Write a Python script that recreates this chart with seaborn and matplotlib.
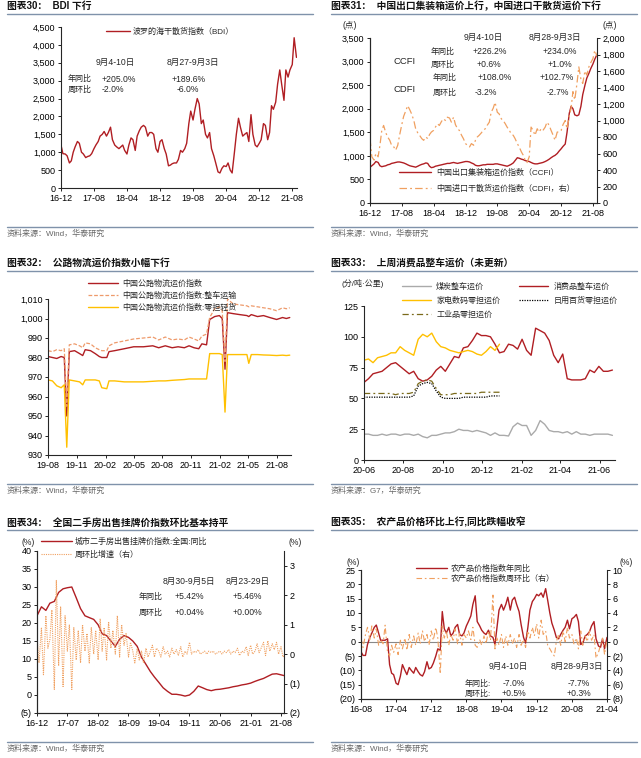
import pandas as pd
import matplotlib
matplotlib.use('Agg')
import matplotlib.pyplot as plt
import matplotlib.dates as mdates
from matplotlib.ticker import FuncFormatter, MultipleLocator
import seaborn as sns

# ---------------- data ----------------
# chart 30: BDI, semi-monthly from 2016-12
bdi = [1200, 960, 950, 900, 700, 760, 1000, 1150, 1300, 1250, 1000, 950,
       850, 880, 900, 960, 1100, 1200, 1300, 1450, 1500, 1580, 1450, 1550,
       1700, 1350, 1200, 1150, 1100, 1150, 1200, 1050, 950, 1200, 1400, 1350,
       1050, 1450, 1600, 1700, 1750, 1700, 1450, 1550, 1550, 1500, 1100, 1000,
       1300, 1350, 1100, 950, 620, 640, 680, 700, 700, 800, 1050, 1000,
       1100, 1250, 1800, 2150, 1900, 2200, 2500, 2350, 1800, 1900, 1500, 1400,
       1550, 1100, 900, 700, 450, 420, 550, 620, 600, 700, 500, 420,
       1000, 1500, 1950, 1700, 1450, 1500, 1550, 1300, 2050, 1500, 1200, 1150,
       1250, 1350, 1800, 1750, 1350, 1550, 2300, 2200, 2400, 2900, 3300, 2900,
       2450, 3300, 3100, 3300, 3450, 4200, 3650]

# chart 31: CCFI (left) / CDFI (right), semi-monthly from 2016-12
ccfi = [760, 790, 830, 880, 860, 790, 770, 780, 790, 810, 820, 840,
        850, 860, 870, 870, 860, 850, 830, 810, 790, 780, 770, 760,
        780, 800, 820, 830, 850, 840, 780, 750, 760, 780, 790, 800,
        810, 820, 830, 840, 840, 850, 860, 850, 840, 850, 860, 870,
        880, 880, 870, 850, 830, 800, 790, 790, 800, 810, 810, 820,
        820, 820, 820, 830, 830, 820, 810, 800, 790, 780, 800, 820,
        850, 900, 960, 950, 930, 920, 900, 890, 880, 860, 840, 830,
        830, 840, 850, 860, 880, 900, 930, 960, 990, 1010, 1050, 1100,
        1150, 1200, 1250, 1500, 1900, 2050, 2000, 1870, 1850, 1870, 2050, 2300,
        2500, 2650, 2750, 2850, 2950, 3050, 3150]
cdfi = [780, 560, 520, 600, 560, 700, 880, 940, 850, 800, 760, 700,
        680, 640, 700, 820, 950, 1050, 1120, 1180, 1130, 1080, 1000, 900,
        850, 820, 780, 760, 800, 780, 830, 860, 880, 920, 960, 940,
        990, 1020, 1000, 1040, 1030, 980, 1040, 950, 900, 880, 820, 780,
        720, 700, 680, 720, 700, 760, 800, 820, 850, 880, 900, 940,
        980, 1100, 1150, 1220, 1100, 1080, 1020, 1000, 960, 920, 880, 840,
        820, 780, 720, 680, 620, 580, 520, 490, 560, 920, 880, 820,
        900, 860, 900, 880, 920, 980, 940, 880, 820, 760, 860, 860,
        880, 950, 1000, 900, 1050, 1150, 1350, 1250, 1450, 1650, 1500, 1450,
        1600, 1550, 1650, 1700, 1750, 1850, 1780]

# chart 32: road freight index
road_dates = ['2019-08-01', '2019-08-15', '2019-08-29', '2019-09-12', '2019-09-22',
              '2019-09-30', '2019-10-08', '2019-10-25', '2019-11-10', '2019-11-20',
              '2019-11-28', '2019-12-15', '2019-12-30', '2020-01-12', '2020-01-20',
              '2020-02-05', '2020-02-12', '2020-03-01', '2020-04-01', '2020-05-01',
              '2020-06-01', '2020-07-01', '2020-07-20', '2020-08-10', '2020-09-01',
              '2020-09-20', '2020-10-10', '2020-10-25', '2020-11-10', '2020-11-25',
              '2020-12-05', '2020-12-20', '2020-12-30', '2021-01-15', '2021-01-30',
              '2021-02-08', '2021-02-17', '2021-02-25', '2021-03-15', '2021-04-05',
              '2021-04-28', '2021-05-04', '2021-05-12', '2021-06-01', '2021-06-20',
              '2021-07-10', '2021-08-01', '2021-08-20', '2021-09-01', '2021-09-12']
road_all = [980.5, 980.0, 979.5, 980.5, 980.0, 950.0, 983.0, 983.5, 982.0, 981.0,
            984.0, 983.5, 982.0, 980.5, 980.0, 980.0, 983.0, 983.5, 984.5, 985.5,
            985.5, 986.0, 985.0, 986.0, 985.0, 985.5, 985.0, 986.0, 985.0, 984.5,
            987.0, 986.5, 999.5, 1001.0, 1001.5, 1000.0, 974.0, 1003.0, 1002.5, 1002.0,
            1001.5, 1001.0, 1002.0, 1001.0, 1001.5, 1000.5, 999.5, 1000.5, 1000.0, 1000.5]
road_ftl = [983.5, 983.0, 984.0, 983.5, 984.5, 955.0, 986.5, 987.0, 986.0, 985.0,
            987.5, 987.0, 985.0, 984.0, 983.5, 983.5, 986.0, 987.5, 988.5, 989.5,
            990.0, 990.5, 989.0, 990.5, 989.0, 989.5, 989.0, 990.5, 989.5, 988.5,
            991.0, 992.0, 1000.5, 1005.0, 1006.0, 1004.0, 978.0, 1010.0, 1007.5, 1007.0,
            1006.5, 1006.0, 1006.5, 1006.0, 1005.5, 1005.0, 1004.0, 1005.5, 1005.0, 1005.5]
road_ltl = [968.5, 968.0, 965.5, 964.5, 966.0, 934.0, 968.5, 968.0, 967.5, 966.0,
            968.5, 968.5, 968.5, 968.0, 964.5, 964.0, 968.0, 968.0, 967.5, 967.5,
            967.5, 967.8, 968.0, 968.0, 968.3, 968.5, 968.7, 969.0, 969.0, 969.0,
            969.0, 969.0, 982.0, 982.0, 982.0, 981.5, 952.0, 981.5, 981.5, 981.5,
            981.5, 977.0, 981.5, 981.5, 981.3, 981.2, 981.0, 981.2, 981.0, 981.2]

# chart 33: weekly truck freight rates from 2020-06-01
coal = [21, 21, 20, 20, 21, 20, 21, 21, 20, 21, 21, 20, 21, 19, 18, 20, 20, 21, 22, 22,
        23, 25, 24, 24, 23, 24, 23, 22, 20, 22, 20, 20, 19.5, 27, 30, 28, 28, 20, 24, 32,
        29, 24, 23, 23, 22, 23, 21, 23, 21, 21, 20, 21, 21, 21, 21, 20]
consumer = [63, 66, 70, 71, 72, 75, 78, 79, 76, 73, 70, 72, 66, 64, 65, 68, 73, 76, 72, 78,
            84, 83, 91, 92, 97, 103, 101, 101, 100, 94, 87, 88, 94, 93, 90, 98, 89, 85, 107, 105,
            103, 97, 85, 79, 86, 66, 65, 65, 65, 66, 73, 71, 76, 72, 72, 73]
appliance = [81, 82, 79, 83, 84, 85, 87, 87, 92, 89, 87, 85, 98, 102, 100, 103, 96, 92, 91, 89,
             88, 87, 88, 89, 88, 86, 85, 88, 92, 89, 94]
daily = [51, 51, 51, 51, 51, 51, 51, 51, 51, 51, 51, 52, 60, 62, 63, 62, 56, 51, 50, 50,
         50, 50, 51, 51, 51, 51, 51, 51, 52, 52, 52]
industrial = [54, 54, 54, 54, 54, 54, 54, 53, 54, 54, 54, 55, 62, 64, 65, 64, 58, 53, 53, 53,
              54, 54, 54, 54, 54, 54, 55, 55, 55, 55, 55]

# chart 34: second-hand house listing price, yoy (monthly) and wow (semi-monthly)
house_yoy = [22, 24.5, 23.5, 25.5, 26, 28.5, 29.5, 29.8, 30, 27, 24, 22, 21.5, 21, 19.5,
             17, 16.5, 15, 13.5, 15.5, 16.5, 16, 15, 13.5, 10.5, 8.5, 6.5, 5, 3.5, 2,
             1, 0.2, 0.2, 0, -0.3, 0, 1, 2.5, 2, 1.5, 1.2, 1.5, 1.6, 1.8, 2.0,
             2.3, 2.5, 2.8, 3.0, 3.3, 3.8, 4.2, 4.6, 5.2, 5.8, 5.9, 5.6, 5.3]
house_wow = [0.6, -0.3, 0.9, -0.7, 1.3, 0.2, 0.5, 1.5, -1.2, 2.5, -0.4, 1.6, -1.1, 1.3,
             0.1, 1.0, -1.2, 0.9, -0.2, 0.8, -0.3, 1.0, 0.1, 0.7, -0.3, 0.9, 0.0, 0.8,
             -0.2, 1.2, 0.1, 0.9, -0.2, 1.1, 0.2, 0.8, 0.0, 1.3, -0.1, 1.0, 0.3, 0.7,
             -0.1, 0.4, 0.1, -0.3, 0.2, -0.2, 0.1, -0.3, 0.2, -0.1, 0.1, 0.3, -0.1, 0.2,
             0.1, -0.1, 0.25, 0.0, 0.1, -0.1, 0.2, 0.0, 0.15, -0.05, 0.25, -0.1, 0.1, 0.0,
             0.4, 0.0, 0.1, 0.05, 0.15, 0.0, 0.05, 0.1, 0.0, 0.1, 0.05, 0.1, 0.0, 0.05,
             0.1, 0.0, 0.1, 0.05, 0.15, 0.0, 0.1, 0.05, 0.2, -0.05, 0.1, 0.05, 0.25, -0.05,
             0.3, 0.0, 0.1, 0.35, 0.05, 0.2, 0.4, -0.05, 0.45, 0.1, 0.35, 0.15, 0.4, 0.0,
             0.25, -0.1, 0.04]

# chart 35: farm product price index, semi-monthly from 2016-08
farm_yoy = [-3.5, -4.8, -4.8, -1, 1.5, 3, 5, 5.8, 3, 0.5, 0.5, 0.5, 1, -8, -11, -11.5,
            -14.5, -15, -12, -8, -10, -11.5, -9, -10, -11, -9, -10.5, -11.5, -12, -10.5,
            -7, -9.5, -9, -7.5, -5, -2.5, -3, 10.5, 4.5, 3, 5, 2, 3, 5, 6, 2.5, 2, 3,
            5.5, 7, 9, 13, 16, 7, 5.5, 4, 3, 2.5, 4, 2, 1.5, -1, 5, 11, 13, 11, 13, 15.5,
            11, 14.5, 15.5, 13, 10.5, 6, 1.5, -0.5, 5, 11, 14, 15, 16.5, 16, 17, 15.5,
            18.5, 14.5, 10, 6.5, 4, 1.5, 1, 2.5, 4, 5, 7.5, 4.5, 8, 8.5, 9.5, 7, -1,
            -0.5, 2, 2.5, 3.5, 5.5, 7, 1, -1.5, -2, 1, -2.5, 1.5]
farm_wow = [0.5, -0.8, 1.0, 2.0, 0.3, 2.2, 0.5, 1.8, -0.5, 0.3, -0.3, 2.3, -1.5, -2.0,
            -0.5, -1.5, -0.3, -1.8, 0.2, -1.0, 0.5, -1.2, 1.0, -0.8, 0.8, -0.5, 1.2, -0.3,
            1.5, 0.0, 1.0, -0.5, 1.5, 0.2, 2.0, 0.5, -4.5, 2.2, 0.5, 1.5, -0.5, 1.0, 0.2,
            1.8, -0.3, 1.2, -0.5, 1.0, 0.5, 1.5, 0.3, 2.0, -0.5, -0.8, 0.3, -0.5, 0.8, -0.3,
            1.5, 0.2, 6.5, -1.0, 0.5, -0.5, 1.0, -0.8, 0.8, -0.5, 1.0, -0.3, 0.5, -0.8, 1.0,
            -0.5, 0.3, -0.8, 1.5, 0.5, 2.0, 0.8, 2.5, 0.5, 3.0, 1.0, 1.5, -0.5, -1.0, -1.5,
            -2.0, 0.0, 1.0, -0.5, 1.5, 0.0, 2.0, 0.5, 1.0, -0.3, 0.5, -1.0, 1.5, -0.5, 0.8,
            0.0, 1.5, 0.2, 1.0, -2.3, -1.5, -0.5, 0.5, -1.8, 0.3]

# ---------------- style ----------------
RED = '#B01E23'
ORANGE = '#F0A060'
SALMON = '#EE9A6B'
YELLOW = '#FFC000'
GRAY = '#AAAAAA'
OLIVE = '#7A6A1A'
RULE = '#7F92AA'

sns.set_theme(style='ticks')
plt.rcParams['font.family'] = ['Liberation Sans', 'Noto Sans CJK SC']
plt.rcParams['axes.unicode_minus'] = False
plt.rcParams['axes.linewidth'] = 0.8

W, H = 641, 758
fig = plt.figure(figsize=(W / 100, H / 100), dpi=100)
fig.patch.set_facecolor('white')


def box(l, t, r, b):
    return [l / W, 1 - b / H, (r - l) / W, (b - t) / H]


def ftext(x, y, s, size=6, ha='left', **kw):
    fig.text(x / W, 1 - y / H, s, fontsize=size, ha=ha, va='center', **kw)


def hline(x0, x1, y):
    fig.add_artist(plt.Line2D([x0 / W, x1 / W], [1 - y / H, 1 - y / H], color=RULE, lw=1.0))


def frame(x0, x1, yt, yl, ysl, ys, title, src):
    ftext(x0, yt, title, size=7, weight='bold', color='#111111')
    hline(x0, x1, yl)
    hline(x0, x1, ysl)
    ftext(x0, ys, src, size=5.8, color='#666666')


thousands = FuncFormatter(lambda v, p: f'{v:,.0f}')
paren = FuncFormatter(lambda v, p: f'({abs(v):.0f})' if v < -1e-9 else f'{v:.0f}')


def style(ax, right=False):
    ax.spines['top'].set_visible(False)
    ax.spines['right'].set_visible(right)
    ax.tick_params(labelsize=6.5, length=2.5, width=0.6, pad=1.5, colors='black')
    ax.set_xlabel('')
    ax.set_ylabel('')


def date_axis(ax, start, n, freq, end):
    ax.set_xticks(pd.date_range(start, periods=n, freq=freq))
    ax.xaxis.set_major_formatter(mdates.DateFormatter('%y-%m'))
    ax.set_xlim(pd.Timestamp(start), pd.Timestamp(end))


def put_legend(ax, handles, x, y, hl=3.8, pad=0.5, sp=0.5, **kw):
    ax.legend(handles=handles, loc='upper left', bbox_to_anchor=(x / W, 1 - y / H),
              bbox_transform=fig.transFigure, frameon=False, fontsize=5.8,
              handlelength=hl, handletextpad=pad, borderaxespad=0, borderpad=0,
              labelspacing=sp, **kw)


def series(start, vals, freq):
    return pd.DataFrame({'date': pd.date_range(start, periods=len(vals), freq=freq), 'v': vals})


# frames
frame(7, 313, 6, 13.5, 226.5, 234, '图表30：  BDI 下行', '资料来源：Wind，华泰研究')
frame(331, 637, 6, 13.5, 226.5, 234, '图表31：  中国出口集装箱运价上行，中国进口干散货运价下行', '资料来源：Wind，华泰研究')
frame(7, 313, 263, 270.5, 484, 491, '图表32：  公路物流运价指数小幅下行', '资料来源：Wind，华泰研究')
frame(331, 637, 263, 270.5, 484, 491, '图表33：  上周消费品整车运价（未更新）', '资料来源：G7，华泰研究')
frame(7, 313, 522.5, 529.5, 742, 749, '图表34：  全国二手房出售挂牌价指数环比基本持平', '资料来源：Wind，华泰研究')
frame(331, 637, 522.5, 529.5, 742, 749, '图表35：  农产品价格环比上行,同比跌幅收窄', '资料来源：Wind，华泰研究')

# ---------------- chart 30 ----------------
ax = fig.add_axes(box(61, 27, 297, 188))
sns.lineplot(data=series('2016-12-01', bdi, 'SMS'), x='date', y='v', ax=ax, color=RED,
             lw=1.0, legend=False, label='波罗的海干散货指数（BDI）')
ax.set_ylim(0, 4500)
ax.yaxis.set_major_locator(MultipleLocator(500))
ax.yaxis.set_major_formatter(thousands)
date_axis(ax, '2016-12-01', 8, '8MS', '2021-09-05')
style(ax)
put_legend(ax, ax.lines[:1], 106, 28, hl=3.0, pad=0.35)
ftext(115, 62.5, '9月4-10日', 6.2, 'center')
ftext(192.5, 62.5, '8月27-9月3日', 6.2, 'center')
ftext(68, 79, '年同比', 5.8)
ftext(101.5, 79, '+205.0%', 6.2)
ftext(188.5, 79, '+189.6%', 6.2, 'center')
ftext(68, 90, '周环比', 5.8)
ftext(101.5, 90, '-2.0%', 6.2)
ftext(187.5, 90, '-6.0%', 6.2, 'center')

# ---------------- chart 31 ----------------
ax = fig.add_axes(box(370, 38, 597, 203))
axr = ax.twinx()
sns.lineplot(data=series('2016-12-01', ccfi, 'SMS'), x='date', y='v', ax=ax, color=RED,
             lw=1.0, legend=False, label='中国出口集装箱运价指数（CCFI）')
sns.lineplot(data=series('2016-12-01', cdfi, 'SMS'), x='date', y='v', ax=axr, color=ORANGE,
             lw=0.9, legend=False, linestyle=(0, (6, 2.5, 1.5, 2.5)),
             label='中国进口干散货运价指数（CDFI，右）')
ax.set_ylim(0, 3500)
ax.yaxis.set_major_locator(MultipleLocator(500))
ax.yaxis.set_major_formatter(thousands)
axr.set_ylim(0, 2000)
axr.yaxis.set_major_locator(MultipleLocator(200))
axr.yaxis.set_major_formatter(thousands)
date_axis(ax, '2016-12-01', 8, '8MS', '2021-09-01')
style(ax)
style(axr, right=True)
put_legend(axr, [ax.lines[0], axr.lines[0]], 399, 168.5, hl=4.0, pad=0.6, sp=0.95)
ftext(342.5, 26, '(点)', 6.2)
ftext(602.5, 26, '(点)', 6.2)
ftext(483.5, 37.5, '9月4-10日', 6.2, 'center')
ftext(555, 37.5, '8月28-9月3日', 6.2, 'center')
ftext(394, 61, 'CCFI', 6.8)
ftext(394, 89, 'CDFI', 6.8)
ftext(431, 51.5, '年同比', 5.8)
ftext(489.5, 51.5, '+226.2%', 6.2, 'center')
ftext(559.5, 51.5, '+234.0%', 6.2, 'center')
ftext(431, 64.5, '周环比', 5.8)
ftext(488.5, 64.5, '+0.6%', 6.2, 'center')
ftext(559.5, 64.5, '+1.0%', 6.2, 'center')
ftext(432.5, 77.5, '年同比', 5.8)
ftext(495, 77.5, '+108.0%', 6.2, 'center')
ftext(556.5, 77.5, '+102.7%', 6.2, 'center')
ftext(432.5, 92.5, '周环比', 5.8)
ftext(485.5, 92.5, '-3.2%', 6.2, 'center')
ftext(557.5, 92.5, '-2.7%', 6.2, 'center')

# ---------------- chart 32 ----------------
ax = fig.add_axes(box(48, 299, 291, 455))
road = pd.DataFrame({'date': pd.to_datetime(road_dates), 'all': road_all,
                     'ftl': road_ftl, 'ltl': road_ltl})
sns.lineplot(data=road, x='date', y='all', ax=ax, color=RED, lw=1.0, legend=False,
             label='中国公路物流运价指数')
sns.lineplot(data=road, x='date', y='ftl', ax=ax, color=SALMON, lw=0.9, legend=False,
             linestyle=(0, (3, 1.5)), label='中国公路物流运价指数:整车运输')
sns.lineplot(data=road, x='date', y='ltl', ax=ax, color=YELLOW, lw=1.0, legend=False,
             label='中国公路物流运价指数:零担轻货')
ax.set_ylim(930, 1010)
ax.yaxis.set_major_locator(MultipleLocator(10))
ax.yaxis.set_major_formatter(thousands)
date_axis(ax, '2019-08-01', 9, '3MS', '2021-09-16')
style(ax)
put_legend(ax, ax.lines[:3], 87.5, 280, hl=3.8, pad=0.55, sp=0.45)

# ---------------- chart 33 ----------------
ax = fig.add_axes(box(364, 306, 615, 460))
sns.lineplot(data=series('2020-06-01', coal, '7D'), x='date', y='v', ax=ax, color=GRAY,
             lw=1.0, legend=False, label='煤炭整车运价')
sns.lineplot(data=series('2020-06-01', consumer, '7D'), x='date', y='v', ax=ax, color=RED,
             lw=1.0, legend=False, label='消费品整车运价')
sns.lineplot(data=series('2020-06-01', appliance, '7D'), x='date', y='v', ax=ax, color=YELLOW,
             lw=1.0, legend=False, label='家电数码零担运价')
sns.lineplot(data=series('2020-06-01', daily, '7D'), x='date', y='v', ax=ax, color='black',
             lw=0.9, legend=False, linestyle=(0, (1, 1)), label='日用百货零担运价')
sns.lineplot(data=series('2020-06-01', industrial, '7D'), x='date', y='v', ax=ax, color=OLIVE,
             lw=0.9, legend=False, linestyle=(0, (5, 2.5, 1.5, 2.5)), label='工业品零担运价')
ax.set_ylim(0, 125)
ax.yaxis.set_major_locator(MultipleLocator(25))
date_axis(ax, '2020-06-01', 7, '2MS', '2021-06-25')
style(ax)
lines = ax.lines
put_legend(ax, [lines[0], lines[2], lines[4], lines[1], lines[3]], 401.5, 283,
           hl=3.7, pad=0.6, sp=0.7, ncol=2, columnspacing=2.3)
ftext(341.5, 283.5, '(分/吨·公里)', 5.8)

# ---------------- chart 34 ----------------
ax = fig.add_axes(box(37, 551, 284, 713))
axr = ax.twinx()
sns.lineplot(data=series('2016-12-01', house_yoy, 'MS'), x='date', y='v', ax=ax, color=RED,
             lw=1.0, legend=False, label='城市二手房出售挂牌价指数:全国:同比')
sns.lineplot(data=series('2016-12-01', house_wow, 'SMS'), x='date', y='v', ax=axr,
             color=ORANGE, lw=0.8, legend=False, linestyle=(0, (1, 1)),
             label='周环比增速（右）')
ax.set_ylim(-5, 40)
ax.yaxis.set_major_locator(MultipleLocator(5))
ax.yaxis.set_major_formatter(paren)
axr.set_ylim(-2, 3.5)
axr.set_yticks([-2, -1, 0, 1, 2, 3])
axr.yaxis.set_major_formatter(paren)
date_axis(ax, '2016-12-01', 9, '7MS', '2021-08-22')
style(ax)
style(axr, right=True)
put_legend(axr, [ax.lines[0], axr.lines[0]], 40.5, 538, hl=3.85, pad=0.4, sp=0.6)
ftext(21.5, 542.5, '(%)', 6.2)
ftext(288.5, 542.5, '(%)', 6.2)
ftext(188.5, 581, '8月30-9月5日', 6.2, 'center')
ftext(247.5, 581, '8月23-29日', 6.2, 'center')
ftext(138.5, 596.5, '年同比', 5.8)
ftext(189.5, 596.5, '+5.42%', 6.2, 'center')
ftext(247.5, 596.5, '+5.46%', 6.2, 'center')
ftext(138.5, 612.5, '周环比', 5.8)
ftext(189.5, 612.5, '+0.04%', 6.2, 'center')
ftext(247.5, 612.5, '+0.00%', 6.2, 'center')

# ---------------- chart 35 ----------------
ax = fig.add_axes(box(361, 570, 607, 699))
axr = ax.twinx()
ax.axhline(0, color='#888888', lw=0.8)
sns.lineplot(data=series('2016-08-01', farm_yoy, 'SMS'), x='date', y='v', ax=ax, color=RED,
             lw=1.0, legend=False, label='农产品价格指数年同比')
sns.lineplot(data=series('2016-08-01', farm_wow, 'SMS'), x='date', y='v', ax=axr,
             color=ORANGE, lw=0.8, legend=False, linestyle=(0, (5, 2.5, 1.5, 2.5)),
             label='农产品价格指数周环比（右）')
ax.set_ylim(-20, 25)
ax.yaxis.set_major_locator(MultipleLocator(5))
ax.yaxis.set_major_formatter(paren)
axr.set_ylim(-8, 10)
axr.yaxis.set_major_locator(MultipleLocator(2))
axr.yaxis.set_major_formatter(paren)
date_axis(ax, '2016-08-01', 8, '8MS', '2021-04-01')
style(ax)
style(axr, right=True)
put_legend(axr, [ax.lines[1], axr.lines[0]], 415.5, 564.5, hl=3.85, pad=0.5, sp=0.3)
ftext(346.5, 562.5, '(%)', 6.2)
ftext(619.5, 562.5, '(%)', 6.2)
ftext(508.5, 666.5, '9月4-10日', 6.2, 'center')
ftext(576.5, 666.5, '8月28-9月3日', 6.2, 'center')
ftext(464.5, 683.5, '年同比:', 5.8)
ftext(513.5, 683.5, '-7.0%', 6.2, 'center')
ftext(578.5, 683.5, '-7.7%', 6.2, 'center')
ftext(464.5, 693.5, '周环比:', 5.8)
ftext(513.5, 693.5, '+0.5%', 6.2, 'center')
ftext(578.5, 693.5, '+0.3%', 6.2, 'center')

fig.savefig('out.png', dpi=100, facecolor='white')
